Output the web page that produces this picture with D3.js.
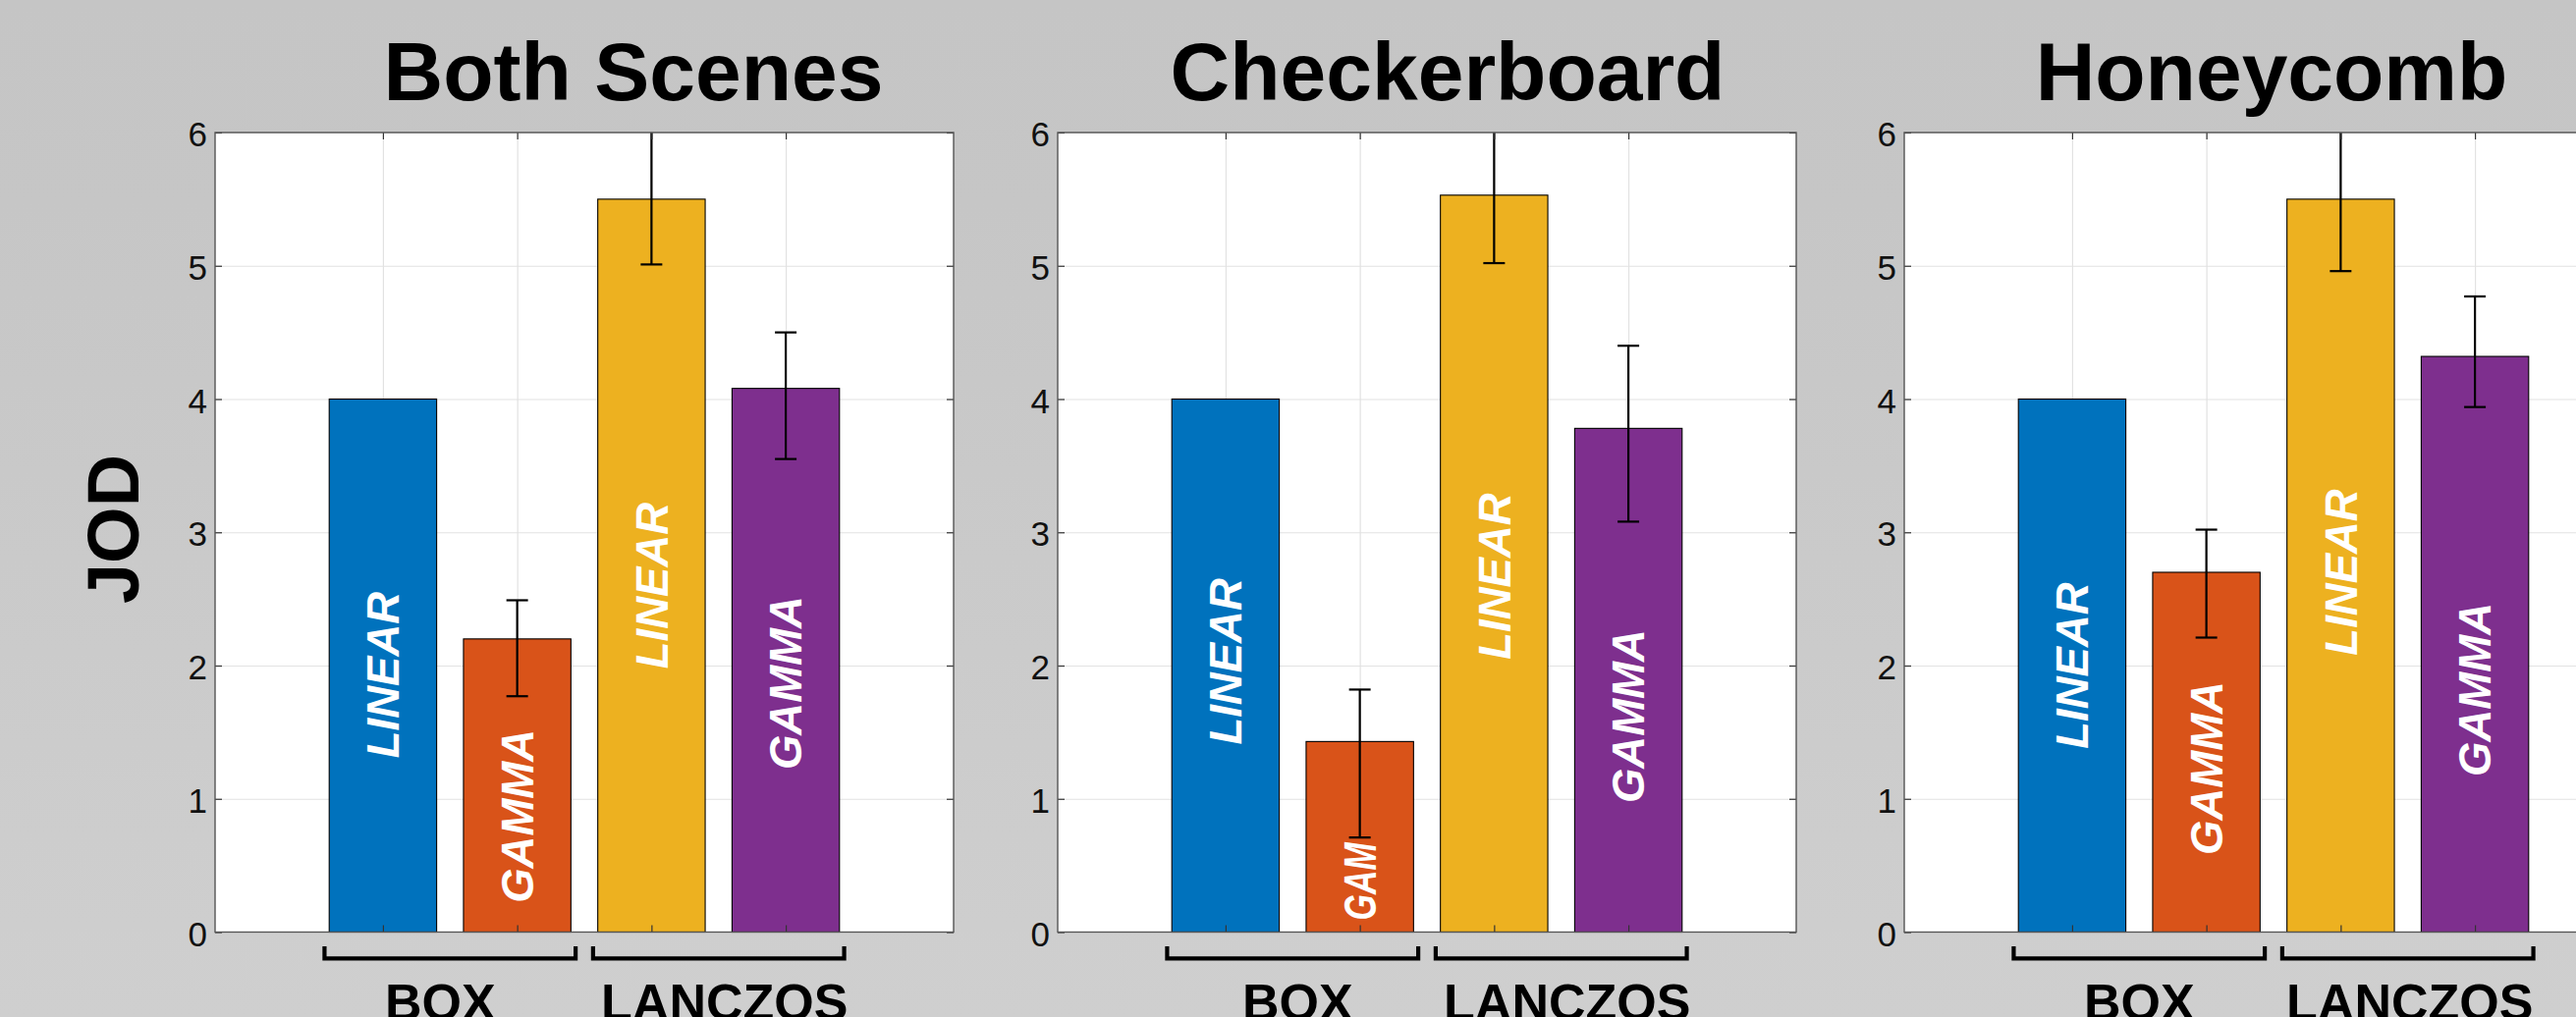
<!DOCTYPE html>
<html>
<head>
<meta charset="utf-8">
<script src="https://cdn.jsdelivr.net/npm/d3@7"></script>
<style>
  html, body { margin: 0; padding: 0; overflow: hidden; background: #c9c9c9; }
  svg { display: block; }
  text { font-family: "Liberation Sans", Arial, Helvetica, sans-serif; }
</style>
</head>
<body>
<svg id="chart" width="2623" height="1036"></svg>
<script>
// ---- data ----
const panelTitles = ["Both Scenes", "Checkerboard", "Honeycomb"];
const barNames    = ["LINEAR", "GAMMA", "LINEAR", "GAMMA"];
const groupNames  = ["BOX", "LANCZOS"];
const positions   = [1, 2, 3, 4];
const yTicks      = [0, 1, 2, 3, 4, 5, 6];
const yLabel      = "JOD";

// mean JOD per condition (BOX-linear is the fixed anchor at 4)
const jodBoth    = [4.00, 2.20, 5.50, 4.08];
const jodChecker = [4.00, 1.43, 5.53, 3.78];
const jodHoney   = [4.00, 2.70, 5.50, 4.32];

// confidence interval bounds (none for the anchor)
const ciLowBoth     = [null, 1.77, 5.01, 3.55];
const ciHighBoth    = [null, 2.49, 6.20, 4.50];
const ciLowChecker  = [null, 0.71, 5.02, 3.08];
const ciHighChecker = [null, 1.82, 6.30, 4.40];
const ciLowHoney    = [null, 2.21, 4.96, 3.94];
const ciHighHoney   = [null, 3.02, 6.20, 4.77];

const seriesColors = ["#0072BD", "#D95319", "#EDB120", "#7E2F8E"];

// ---- layout ----
const W = 2623, H = 1036;
const plotTop = 135, plotBottom = 949.5, plotWidth = 752;
const panelLeft = [219, 1077, 1939];
const titleCenter = [645, 1474, 2313];
// where along each bar its rotated name is centred (JOD units)
const nameCentre = [
  [1.93, 0.87, 2.60, 1.87],
  [2.03, 0.38, 2.67, 1.62],
  [2.00, 1.23, 2.70, 1.82]
];
// shortened name inside the low Checkerboard bar
const nameShown = [
  barNames,
  ["LINEAR", "GAM", "LINEAR", "GAMMA"],
  barNames
];
const nameSqueeze = [[null, null, null, null], [null, 79, null, null], [null, null, null, null]];
const groupNudge = [[-10, 6], [5, 6], [0, 2]];

const panels = [
  { title: panelTitles[0], jod: jodBoth,    lo: ciLowBoth,    hi: ciHighBoth },
  { title: panelTitles[1], jod: jodChecker, lo: ciLowChecker, hi: ciHighChecker },
  { title: panelTitles[2], jod: jodHoney,   lo: ciLowHoney,   hi: ciHighHoney }
];

const svg = d3.select("#chart");

// soft grey backdrop, slightly lighter towards the bottom
const defs = svg.append("defs");
const grad = defs.append("linearGradient").attr("id", "bg").attr("x1", 0).attr("y1", 0).attr("x2", 0).attr("y2", 1);
grad.append("stop").attr("offset", "0").attr("stop-color", "#c5c5c5");
grad.append("stop").attr("offset", "0.2").attr("stop-color", "#c6c6c6");
grad.append("stop").attr("offset", "0.55").attr("stop-color", "#cacaca");
grad.append("stop").attr("offset", "1").attr("stop-color", "#cfcfcf");
svg.append("rect").attr("width", W).attr("height", H).attr("fill", "url(#bg)");

const y = d3.scaleLinear().domain([0, 6]).range([plotBottom, plotTop]);

// y-axis title
svg.append("text")
  .attr("transform", `translate(141,539) rotate(-90)`)
  .attr("text-anchor", "middle")
  .attr("font-size", 74)
  .attr("font-weight", "bold")
  .attr("fill", "#000")
  .text(yLabel);

panels.forEach((p, pi) => {
  const left = panelLeft[pi];
  const x = d3.scaleLinear().domain([-0.25, 5.25]).range([left, left + plotWidth]);
  const barW = x(0.8) - x(0);
  const g = svg.append("g");

  const clipId = "clip" + pi;
  defs.append("clipPath").attr("id", clipId)
    .append("rect").attr("x", left).attr("y", plotTop)
    .attr("width", plotWidth).attr("height", plotBottom - plotTop);

  // title
  g.append("text")
    .attr("x", titleCenter[pi]).attr("y", 102)
    .attr("text-anchor", "middle")
    .attr("font-size", 84).attr("font-weight", "bold")
    .attr("fill", "#000")
    .text(p.title);

  // plot background
  g.append("rect").attr("x", left).attr("y", plotTop)
    .attr("width", plotWidth).attr("height", plotBottom - plotTop)
    .attr("fill", "#fff");

  // grid
  const gridY = g.append("g").attr("transform", `translate(${left},0)`)
    .call(d3.axisLeft(y).tickValues(yTicks).tickSize(-plotWidth).tickFormat(""));
  const gridX = g.append("g").attr("transform", `translate(0,${plotBottom})`)
    .call(d3.axisBottom(x).tickValues(positions).tickSize(-(plotBottom - plotTop)).tickFormat(""));
  [gridY, gridX].forEach(a => {
    a.select(".domain").remove();
    a.selectAll(".tick line").attr("stroke", "#e2e2e2").attr("stroke-width", 1.2);
  });

  // bars
  g.selectAll("rect.bar").data(p.jod).join("rect")
    .attr("class", "bar")
    .attr("x", (d, i) => x(positions[i]) - barW / 2)
    .attr("y", d => y(d))
    .attr("width", barW)
    .attr("height", d => y(0) - y(d))
    .attr("fill", (d, i) => seriesColors[i])
    .attr("stroke", "#000").attr("stroke-width", 1.1);

  // names inside the bars
  g.selectAll("text.name").data(nameShown[pi]).join("text")
    .attr("class", "name")
    .attr("transform", (d, i) => `translate(${x(positions[i])},${y(nameCentre[pi][i])}) rotate(-90)`)
    .attr("text-anchor", "middle")
    .attr("dy", "0.358em")
    .attr("font-size", 45.5)
    .attr("font-weight", "bold")
    .attr("font-style", "italic")
    .attr("fill", "#fff")
    .each(function (d, i) {
      const len = nameSqueeze[pi][i];
      if (len) d3.select(this).attr("textLength", len).attr("lengthAdjust", "spacingAndGlyphs");
    })
    .text(d => d);

  // confidence intervals
  const eb = g.append("g").attr("clip-path", `url(#${clipId})`)
    .attr("stroke", "#000").attr("stroke-width", 2.2).attr("fill", "none");
  p.jod.forEach((d, i) => {
    if (p.lo[i] == null) return;
    const cx = x(positions[i]);
    eb.append("line").attr("x1", cx).attr("x2", cx).attr("y1", y(p.lo[i])).attr("y2", y(p.hi[i]));
    [p.lo[i], p.hi[i]].forEach(v => {
      eb.append("line").attr("x1", cx - 11).attr("x2", cx + 11).attr("y1", y(v)).attr("y2", y(v));
    });
  });

  // axes with inward ticks
  const tickColor = "#333";
  const axL = g.append("g").attr("transform", `translate(${left},0)`)
    .call(d3.axisLeft(y).tickValues(yTicks).tickSize(-7).tickPadding(8).tickFormat(d3.format("d")));
  axL.selectAll(".tick text")
    .attr("font-size", 35).attr("fill", "#111")
    .attr("font-family", "'Liberation Sans', Arial, Helvetica, sans-serif")
    .attr("dy", "0.39em");
  const axR = g.append("g").attr("transform", `translate(${left + plotWidth},0)`)
    .call(d3.axisRight(y).tickValues(yTicks).tickSize(-7).tickFormat(""));
  const axT = g.append("g").attr("transform", `translate(0,${plotTop})`)
    .call(d3.axisTop(x).tickValues(positions).tickSize(-7).tickFormat(""));
  const axB = g.append("g").attr("transform", `translate(0,${plotBottom})`)
    .call(d3.axisBottom(x).tickValues(positions).tickSize(-7).tickFormat(""));
  [axL, axR, axT, axB].forEach(a => {
    a.select(".domain").remove();
    a.selectAll(".tick line").attr("stroke", tickColor).attr("stroke-width", 1.2);
  });

  // axes box
  g.append("rect").attr("x", left).attr("y", plotTop)
    .attr("width", plotWidth).attr("height", plotBottom - plotTop)
    .attr("fill", "none").attr("stroke", "#555").attr("stroke-width", 1.4);

  // group brackets and names
  groupNames.forEach((name, gi) => {
    const c = (positions[gi * 2] + positions[gi * 2 + 1]) / 2;
    const x0 = x(c - 0.935), x1 = x(c + 0.935);
    g.append("path")
      .attr("d", `M${x0},964 V976.3 H${x1} V964`)
      .attr("fill", "none").attr("stroke", "#000").attr("stroke-width", 4.2)
      .attr("stroke-linejoin", "miter");
    g.append("text")
      .attr("x", x(c) + groupNudge[pi][gi]).attr("y", 1039)
      .attr("text-anchor", "middle")
      .attr("font-size", 52).attr("font-weight", "bold")
      .attr("fill", "#000")
      .text(name);
  });
});
</script>
</body>
</html>
